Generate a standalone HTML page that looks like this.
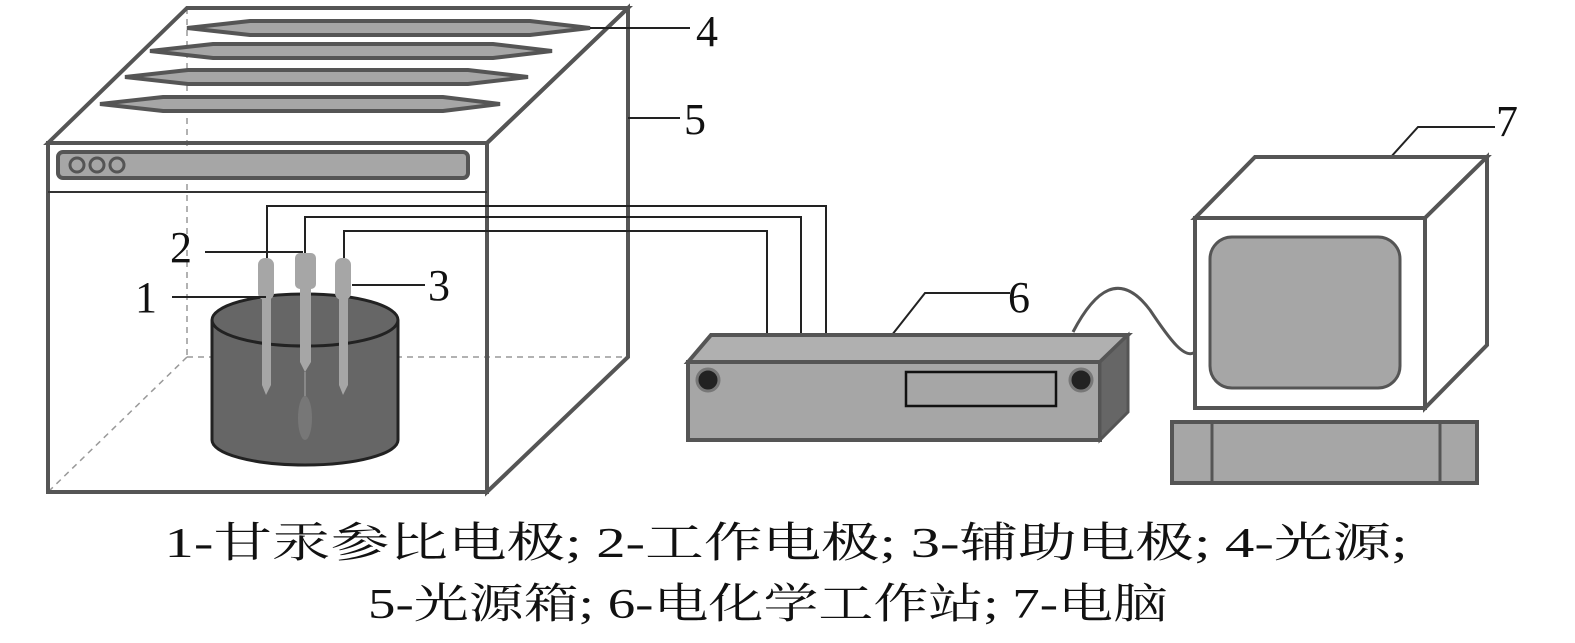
<!DOCTYPE html>
<html><head><meta charset="utf-8"><style>
body{margin:0;background:#fff;}
svg{display:block}
text{font-family:"Liberation Serif","Noto Serif CJK SC",serif;fill:#111}
</style></head><body>
<svg width="1575" height="643" viewBox="0 0 1575 643" xmlns="http://www.w3.org/2000/svg">
<!-- light box -->
<g fill="none" stroke="#999" stroke-width="1.5" stroke-dasharray="6,5">
<line x1="187" y1="8" x2="187" y2="357"/><line x1="187" y1="357" x2="628" y2="357"/><line x1="187" y1="357" x2="48" y2="492"/>
</g>
<g fill="none" stroke="#555" stroke-width="4">
<polygon points="48,143 187,8 628,8 487,143"/>
<rect x="48" y="143" width="439" height="349"/>
<polygon points="487,143 628,8 628,357 487,492"/>
</g>
<g fill="#a6a6a6" stroke="#555" stroke-width="4">
<polygon points="187,28 250,21 530,21 590,28 530,35 250,35"/>
<polygon points="150,51 213,44 493,44 552,51 493,58 213,58"/>
<polygon points="125,77 188,70 468,70 528,77 468,84 188,84"/>
<polygon points="100,104 163,97 443,97 500,104 443,111 163,111"/>
<rect x="58" y="152" width="410" height="26" rx="5"/>
</g>
<g fill="none" stroke="#555" stroke-width="3"><circle cx="77" cy="165" r="7"/><circle cx="97" cy="165" r="7"/><circle cx="117" cy="165" r="7"/></g>
<line x1="48" y1="192" x2="487" y2="192" stroke="#333" stroke-width="2"/>
<!-- beaker -->
<path d="M212,320 L212,440 A93,25 0 0 0 398,440 L398,320" fill="#666" stroke="#222" stroke-width="3"/>
<ellipse cx="305" cy="320" rx="93" ry="26" fill="#666" stroke="#222" stroke-width="3"/>
<!-- electrodes -->
<g fill="#a6a6a6">
<rect x="258" y="258" width="16" height="42" rx="7"/><path d="M262,298 H271 V385 L266,395 L262,385Z"/>
<rect x="295" y="253" width="21" height="36" rx="5"/><path d="M300,288 H311 V362 L305,372 L300,362Z"/>
<rect x="335" y="258" width="16" height="42" rx="7"/><path d="M339,298 H348 V385 L343,395 L339,385Z"/>
</g>
<line x1="305" y1="372" x2="305" y2="400" stroke="#aaa" stroke-width="1"/>
<ellipse cx="305" cy="418" rx="7" ry="22" fill="#777"/>
<!-- wires -->
<g fill="none" stroke="#222" stroke-width="2">
<polyline points="267,258 267,206 826,206 826,335"/>
<polyline points="305,253 305,217 801,217 801,335"/>
<polyline points="344,258 344,231 767,231 767,337"/>
<line x1="590" y1="28" x2="690" y2="28"/><line x1="628" y1="118" x2="680" y2="118"/>
<line x1="205" y1="252" x2="303" y2="252"/><line x1="172" y1="297" x2="266" y2="297"/><line x1="352" y1="285" x2="425" y2="285"/>
<polyline points="1010,293 925,293 888,340"/><polyline points="1495,127 1418,127 1372,178"/>
</g>
<!-- workstation -->
<polygon points="688,362 711,335 1128,335 1100,362" fill="#b0b0b0" stroke="#555" stroke-width="4"/>
<rect x="688" y="362" width="412" height="78" fill="#a6a6a6" stroke="#555" stroke-width="4"/>
<polygon points="1100,362 1128,335 1128,412 1100,440" fill="#666" stroke="#555" stroke-width="3"/>
<circle cx="708" cy="380" r="11" fill="#222" stroke="#777" stroke-width="3"/>
<circle cx="1081" cy="380" r="11" fill="#222" stroke="#777" stroke-width="3"/>
<rect x="906" y="372" width="150" height="34" fill="#a6a6a6" stroke="#111" stroke-width="2.5"/>
<path d="M1073,332 C1095,290 1120,270 1150,310 C1170,340 1185,360 1195,352" fill="none" stroke="#555" stroke-width="3"/>
<!-- monitor -->
<g fill="#fff" stroke="#555" stroke-width="4">
<polygon points="1195,218 1255,157 1487,157 1425,218"/>
<rect x="1195" y="218" width="230" height="190"/>
<polygon points="1425,218 1487,157 1487,345 1425,408"/>
</g>
<rect x="1210" y="237" width="190" height="151" rx="22" fill="#a6a6a6" stroke="#555" stroke-width="3"/>
<rect x="1172" y="422" width="305" height="61" fill="#a6a6a6" stroke="#555" stroke-width="4"/>
<line x1="1212" y1="422" x2="1212" y2="483" stroke="#555" stroke-width="3"/>
<line x1="1440" y1="422" x2="1440" y2="483" stroke="#555" stroke-width="3"/>
<!-- labels -->
<g font-size="44">
<text x="696" y="46">4</text><text x="684" y="134">5</text>
<text x="170" y="262">2</text><text x="135" y="312">1</text><text x="428" y="300">3</text>
<text x="1008" y="312">6</text><text x="1496" y="136">7</text>
</g>
<text x="786" y="557" font-size="42" text-anchor="middle" textLength="1243" lengthAdjust="spacingAndGlyphs">1-甘汞参比电极; 2-工作电极; 3-辅助电极; 4-光源;</text>
<text x="768" y="618" font-size="42" text-anchor="middle" textLength="800" lengthAdjust="spacingAndGlyphs">5-光源箱; 6-电化学工作站; 7-电脑</text>
</svg>
</body></html>
